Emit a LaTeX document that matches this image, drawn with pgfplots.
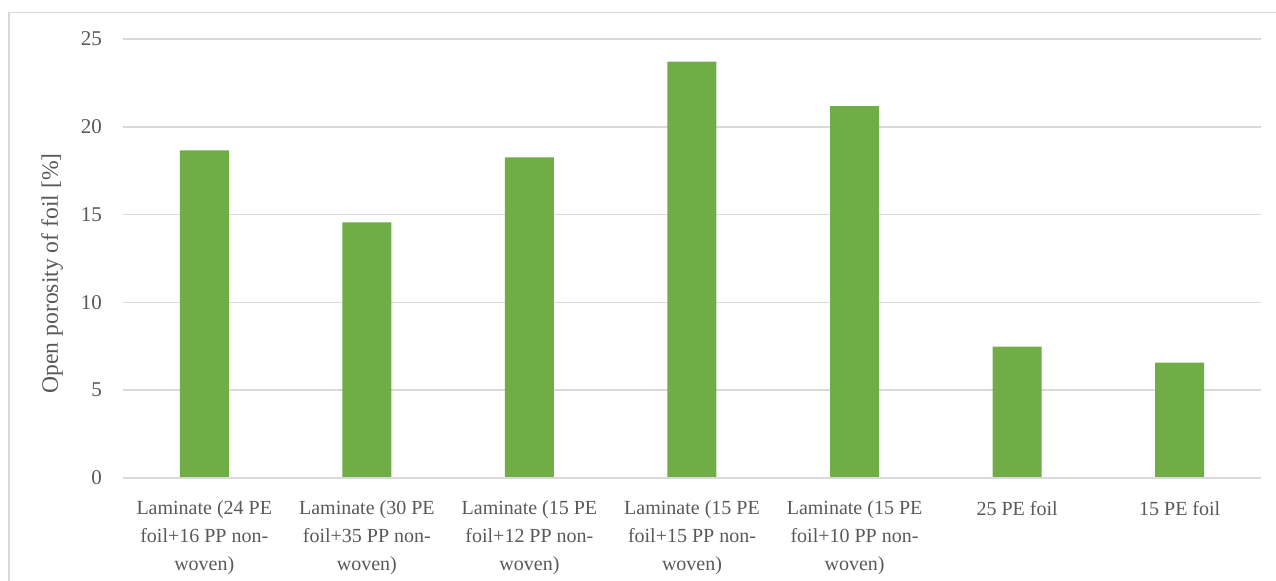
\documentclass[border=0pt]{standalone}
\usepackage{fontspec}
\setmainfont{Liberation Serif}
\usepackage{pgfplots}
\pgfplotsset{compat=1.18}
\definecolor{barg}{HTML}{70AD47}
\definecolor{txt}{HTML}{595959}
\definecolor{grd}{HTML}{D9D9D9}
\begin{document}
\begin{tikzpicture}
\useasboundingbox (-61.5pt,-51.5pt) rectangle (576.5pt,239pt);
\draw[grd, line width=0.75pt] (-57pt,-60pt) |- (600pt,232.75pt);
\begin{axis}[
  at={(0,0)}, anchor=south west,
  scale only axis,
  width=569pt, height=219.5pt,
  xmin=-0.5, xmax=6.5, ymin=0, ymax=25,
  ytick={0,5,10,15,20,25},
  xtick={0,1,2,3,4,5,6},
  xticklabels={{Laminate (24 PE\\foil+16 PP non-\\woven)},{Laminate (30 PE\\foil+35 PP non-\\woven)},{Laminate (15 PE\\foil+12 PP non-\\woven)},{Laminate (15 PE\\foil+15 PP non-\\woven)},{Laminate (15 PE\\foil+10 PP non-\\woven)},{25 PE foil},{15 PE foil}},
  axis line style={draw=none},
  major tick length=0pt,
  ymajorgrids, grid style={grd, line width=0.75pt},
  xticklabel style={align=center, anchor=north, yshift=-8pt, text=txt, font={\fontsize{10}{14}\selectfont}},
  yticklabel style={text=txt, font={\fontsize{10.5}{12}\selectfont}, xshift=-7pt},
  /pgf/number format/assume math mode=true,
  every axis y label/.style={at={(axis description cs:0,0.466)}, xshift=-35.5pt, rotate=90, anchor=center, text=txt, font={\fontsize{11.8}{14}\selectfont}},
  ylabel={Open porosity of foil [\%]},
]
\addplot[ybar, bar width=24.5pt, fill=barg, draw=none] coordinates {
  (0,18.65) (1,14.55) (2,18.26) (3,23.71) (4,21.17) (5,7.48) (6,6.57)
};
\draw[grd, line width=0.75pt] (axis cs:-0.5,0) -- (axis cs:6.5,0);
\end{axis}
\end{tikzpicture}
\end{document}
